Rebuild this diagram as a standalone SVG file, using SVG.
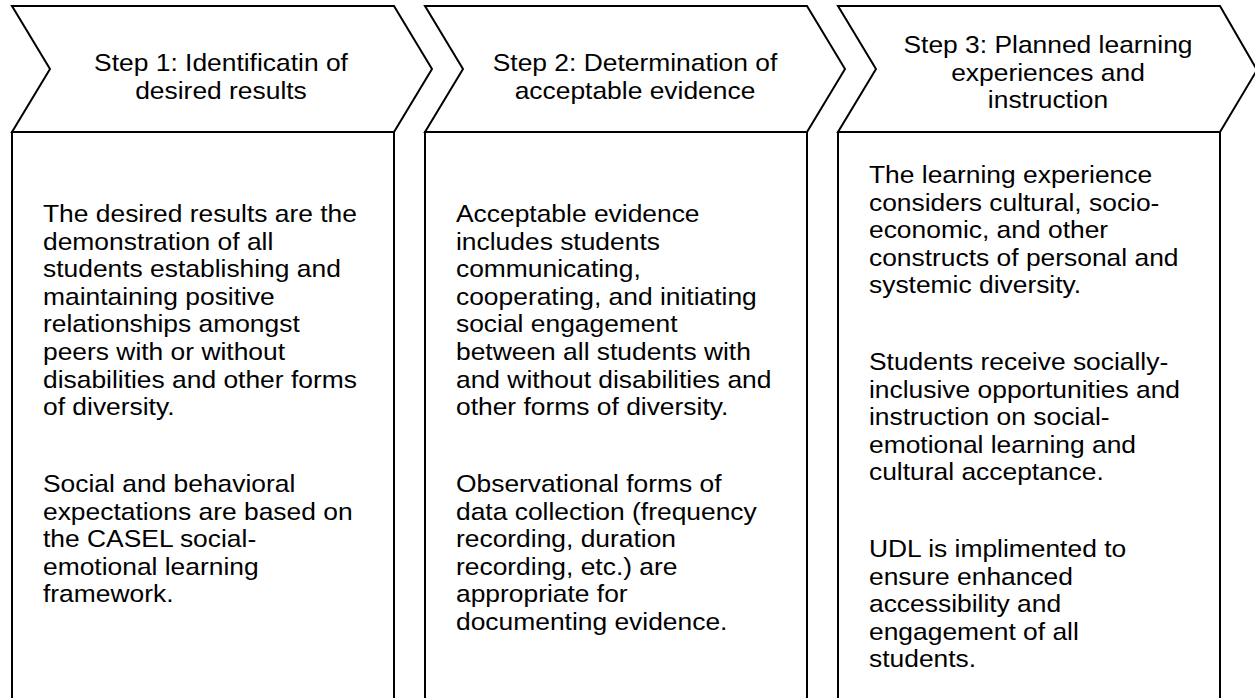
<svg xmlns="http://www.w3.org/2000/svg" width="1255" height="698" viewBox="0 0 1255 698">
  <style>
    .shape { fill: #ffffff; stroke: #000000; stroke-width: 2; stroke-linejoin: miter; }
    .head { font-family: "Liberation Sans", Arial, sans-serif; font-size: 24px; fill: #000000; text-anchor: middle; }
    .body { font-family: "Liberation Sans", Arial, sans-serif; font-size: 24px; fill: #000000; }
  </style>
  <rect x="0" y="0" width="1255" height="698" fill="#ffffff"/>

  <!-- Step 1 -->
  <g id="step1">
    <rect class="shape" x="12" y="132" width="382" height="600"/>
    <polygon class="shape" points="12,6 394,6 432,69 394,132 12,132 50,69"/>
    <g transform="translate(221,0) scale(1.1,1)">
      <text class="head"><tspan x="0" y="71">Step 1: Identificatin of</tspan><tspan x="0" y="98.6">desired results</tspan></text>
    </g>
    <g transform="translate(43,0) scale(1.1,1)">
      <text class="body">
        <tspan x="0" y="222">The desired results are the</tspan>
        <tspan x="0" y="249.6">demonstration of all</tspan>
        <tspan x="0" y="277.2">students establishing and</tspan>
        <tspan x="0" y="304.8">maintaining positive</tspan>
        <tspan x="0" y="332.4">relationships amongst</tspan>
        <tspan x="0" y="360">peers with or without</tspan>
        <tspan x="0" y="387.6">disabilities and other forms</tspan>
        <tspan x="0" y="415.2">of diversity.</tspan>
        <tspan x="0" y="492">Social and behavioral</tspan>
        <tspan x="0" y="519.6">expectations are based on</tspan>
        <tspan x="0" y="547.2">the CASEL social-</tspan>
        <tspan x="0" y="574.8">emotional learning</tspan>
        <tspan x="0" y="602.4">framework.</tspan>
      </text>
    </g>
  </g>

  <!-- Step 2 -->
  <g id="step2">
    <rect class="shape" x="425" y="132" width="382" height="600"/>
    <polygon class="shape" points="425,6 807,6 845,69 807,132 425,132 463,69"/>
    <g transform="translate(635,0) scale(1.1,1)">
      <text class="head"><tspan x="0" y="71">Step 2: Determination of</tspan><tspan x="0" y="98.6">acceptable evidence</tspan></text>
    </g>
    <g transform="translate(456,0) scale(1.1,1)">
      <text class="body">
        <tspan x="0" y="222">Acceptable evidence</tspan>
        <tspan x="0" y="249.6">includes students</tspan>
        <tspan x="0" y="277.2">communicating,</tspan>
        <tspan x="0" y="304.8">cooperating, and initiating</tspan>
        <tspan x="0" y="332.4">social engagement</tspan>
        <tspan x="0" y="360">between all students with</tspan>
        <tspan x="0" y="387.6">and without disabilities and</tspan>
        <tspan x="0" y="415.2">other forms of diversity.</tspan>
        <tspan x="0" y="492">Observational forms of</tspan>
        <tspan x="0" y="519.6">data collection (frequency</tspan>
        <tspan x="0" y="547.2">recording, duration</tspan>
        <tspan x="0" y="574.8">recording, etc.) are</tspan>
        <tspan x="0" y="602.4">appropriate for</tspan>
        <tspan x="0" y="630">documenting evidence.</tspan>
      </text>
    </g>
  </g>

  <!-- Step 3 -->
  <g id="step3">
    <rect class="shape" x="838" y="132" width="382" height="600"/>
    <polygon class="shape" points="838,6 1220,6 1257,70 1220,132 838,132 876,69"/>
    <g transform="translate(1048,0) scale(1.1,1)">
      <text class="head"><tspan x="0" y="53.3">Step 3: Planned learning</tspan><tspan x="0" y="80.9">experiences and</tspan><tspan x="0" y="108.5">instruction</tspan></text>
    </g>
    <g transform="translate(869,0) scale(1.1,1)">
      <text class="body">
        <tspan x="0" y="183">The learning experience</tspan>
        <tspan x="0" y="210.6">considers cultural, socio-</tspan>
        <tspan x="0" y="238.2">economic, and other</tspan>
        <tspan x="0" y="265.8">constructs of personal and</tspan>
        <tspan x="0" y="293.4">systemic diversity.</tspan>
        <tspan x="0" y="370">Students receive socially-</tspan>
        <tspan x="0" y="397.6">inclusive opportunities and</tspan>
        <tspan x="0" y="425.2">instruction on social-</tspan>
        <tspan x="0" y="452.8">emotional learning and</tspan>
        <tspan x="0" y="480.4">cultural acceptance.</tspan>
        <tspan x="0" y="557">UDL is implimented to</tspan>
        <tspan x="0" y="584.6">ensure enhanced</tspan>
        <tspan x="0" y="612.2">accessibility and</tspan>
        <tspan x="0" y="639.8">engagement of all</tspan>
        <tspan x="0" y="667.4">students.</tspan>
      </text>
    </g>
  </g>

  <!-- no connectors: the steps touch edge to edge -->
  <g id="connectors"/>
</svg>
